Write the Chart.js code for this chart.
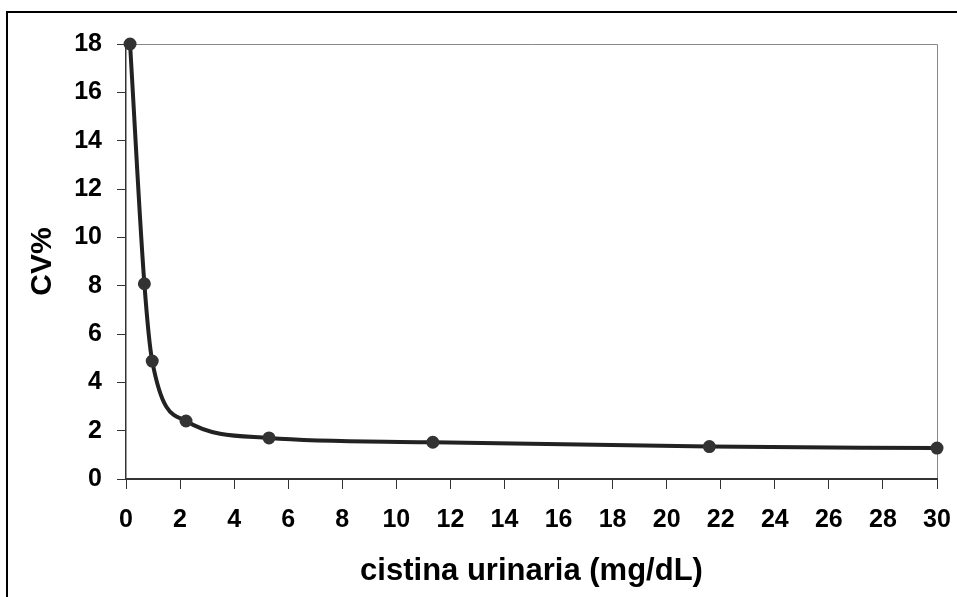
<!DOCTYPE html>
<html>
<head>
<meta charset="utf-8">
<script src="https://cdn.jsdelivr.net/npm/chart.js@4/dist/chart.umd.min.js"></script>
<style>
  html, body { margin: 0; padding: 0; background: #fff; }
  #wrap { width: 957px; height: 597px; }
</style>
</head>
<body>
<div id="wrap"><canvas id="cv"></canvas></div>
<script>
// valores
const cistina = [0.15, 0.68, 0.97, 2.22, 5.29, 11.35, 21.58, 30];
const cvPct = [18, 8.08, 4.88, 2.4, 1.7, 1.52, 1.34, 1.28];
const xTicks = [0, 2, 4, 6, 8, 10, 12, 14, 16, 18, 20, 22, 24, 26, 28, 30];
const yTicks = [0, 2, 4, 6, 8, 10, 12, 14, 16, 18];

const FONT = '"Liberation Sans", Arial, sans-serif';
const INK = '#222';

// marco exterior y bordes grises del área de trazado
const framePlugin = {
    id: 'frame',
    beforeDraw(chart) {
        const { ctx, chartArea: a } = chart;
        ctx.save();
        ctx.strokeStyle = '#000';
        ctx.lineWidth = 2;
        ctx.strokeRect(7, 12, 980, 620);
        ctx.strokeStyle = '#888';
        ctx.lineWidth = 1;
        ctx.beginPath();
        ctx.moveTo(a.left, a.top + 0.5);
        ctx.lineTo(a.right + 0.5, a.top + 0.5);
        ctx.lineTo(a.right + 0.5, a.bottom);
        ctx.stroke();
        ctx.restore();
    }
};

new Chart(document.getElementById('cv').getContext('2d'), {
    type: 'scatter',
    plugins: [framePlugin],
    data: {
        datasets: [{
            data: cistina.map((x, i) => ({ x: x, y: cvPct[i] })),
            showLine: true,
            cubicInterpolationMode: 'monotone',
            borderColor: INK,
            borderWidth: 4,
            pointRadius: 4.5,
            pointBackgroundColor: '#333',
            pointBorderColor: '#333',
            clip: false
        }]
    },
    options: {
        responsive: true,
        maintainAspectRatio: false,
        animation: false,
        layout: { padding: { left: 0, top: 44, right: 20, bottom: 0 } },
        plugins: { legend: { display: false }, tooltip: { enabled: false } },
        scales: {
            x: {
                type: 'linear',
                min: 0, max: 30,
                afterBuildTicks: (s) => { s.ticks = xTicks.map(v => ({ value: v })); },
                afterFit: (s) => { s.height = 118; s.paddingLeft = 0; s.paddingRight = 0; },
                border: { display: true, color: '#333', width: 2 },
                grid: { drawOnChartArea: false, drawTicks: true, tickLength: 10, color: '#333', lineWidth: 1 },
                ticks: { color: '#000', padding: 16, maxRotation: 0, font: { family: FONT, size: 25, weight: 'bold' } },
                title: { display: true, text: 'cistina urinaria (mg/dL)', color: '#000', padding: { top: 0, bottom: 7 }, font: { family: FONT, size: 31, weight: 'bold' } }
            },
            y: {
                min: 0, max: 18,
                afterBuildTicks: (s) => { s.ticks = yTicks.map(v => ({ value: v })); },
                afterFit: (s) => { s.width = 126; s.paddingTop = 0; s.paddingBottom = 0; },
                border: { display: true, color: '#333', width: 1.5 },
                grid: { drawOnChartArea: false, drawTicks: true, tickLength: 9, color: '#333', lineWidth: 1 },
                ticks: { color: '#000', padding: 15, font: { family: FONT, size: 25, weight: 'bold' } },
                title: { display: true, text: 'CV%', color: '#000', padding: { top: 25, bottom: 0 }, font: { family: FONT, size: 30, weight: 'bold' } }
            }
        }
    }
});
</script>
</body>
</html>
